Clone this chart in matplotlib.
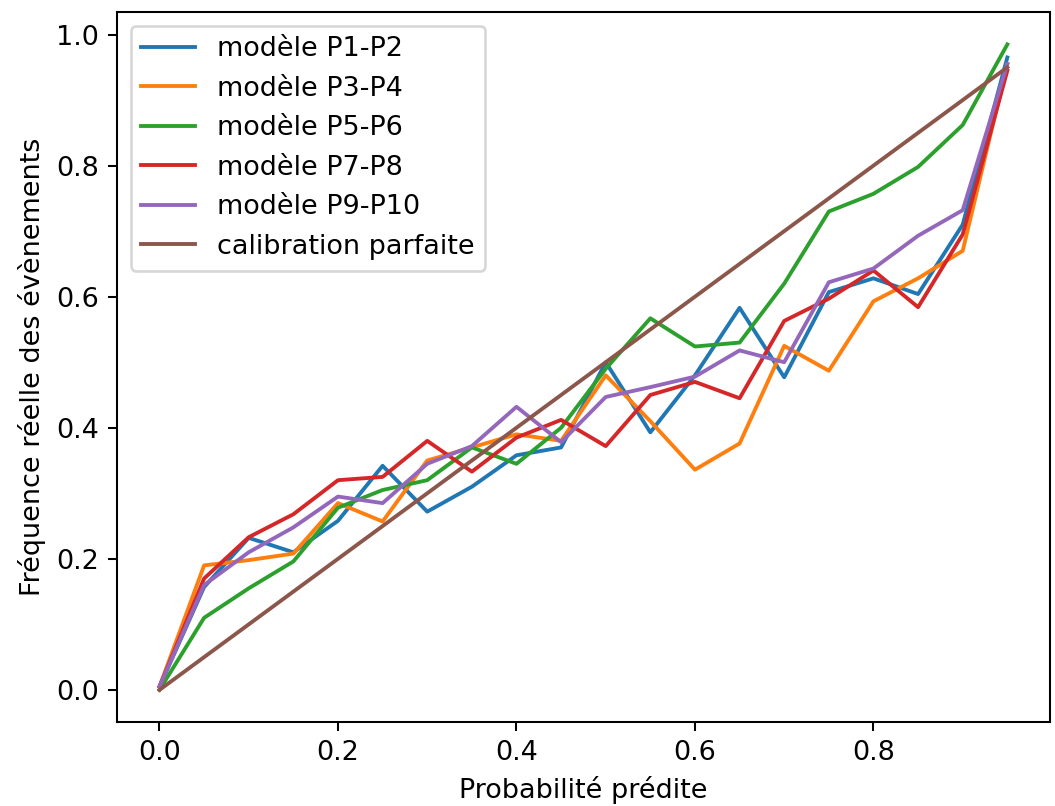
import numpy as np
import matplotlib
matplotlib.use("Agg")
import matplotlib.pyplot as plt

# probabilités prédites (centres des classes)
prob_predite = [0.0, 0.05, 0.10, 0.15, 0.20, 0.25, 0.30, 0.35, 0.40, 0.45,
                0.50, 0.55, 0.60, 0.65, 0.70, 0.75, 0.80, 0.85, 0.90, 0.95]

freq_p1_p2 = [0.005, 0.157, 0.232, 0.210, 0.258, 0.342, 0.272, 0.310, 0.358, 0.370,
              0.500, 0.393, 0.480, 0.583, 0.477, 0.607, 0.628, 0.604, 0.710, 0.965]
freq_p3_p4 = [0.005, 0.190, 0.198, 0.208, 0.285, 0.257, 0.350, 0.370, 0.390, 0.380,
              0.480, 0.410, 0.336, 0.376, 0.525, 0.487, 0.593, 0.628, 0.670, 0.955]
freq_p5_p6 = [0.000, 0.110, 0.155, 0.196, 0.278, 0.305, 0.320, 0.370, 0.345, 0.400,
              0.490, 0.567, 0.524, 0.530, 0.620, 0.730, 0.757, 0.798, 0.862, 0.985]
freq_p7_p8 = [0.005, 0.170, 0.233, 0.268, 0.320, 0.325, 0.380, 0.333, 0.385, 0.412,
              0.372, 0.450, 0.470, 0.445, 0.563, 0.597, 0.640, 0.584, 0.695, 0.945]
freq_p9_p10 = [0.005, 0.160, 0.210, 0.248, 0.295, 0.285, 0.345, 0.372, 0.432, 0.378,
               0.447, 0.462, 0.478, 0.518, 0.500, 0.622, 0.643, 0.693, 0.732, 0.955]

labels = ["modèle P1-P2", "modèle P3-P4", "modèle P5-P6", "modèle P7-P8", "modèle P9-P10"]
series = [freq_p1_p2, freq_p3_p4, freq_p5_p6, freq_p7_p8, freq_p9_p10]

DPI = 185
plt.rcParams["font.size"] = 10.5

fig = plt.figure(figsize=(1055 / DPI, 806 / DPI), dpi=DPI)
ax = fig.add_axes([0.111, 0.104, 0.884, 0.881])

for lab, freq in zip(labels, series):
    ax.plot(prob_predite, freq, label=lab)

# diagonale = calibration parfaite
ax.plot(prob_predite, prob_predite, label="calibration parfaite")

ax.set_xlabel("Probabilité prédite")
ax.set_ylabel("Fréquence réelle des évènements")
ax.legend(loc="upper left")

fig.savefig("out.png", dpi=DPI)
